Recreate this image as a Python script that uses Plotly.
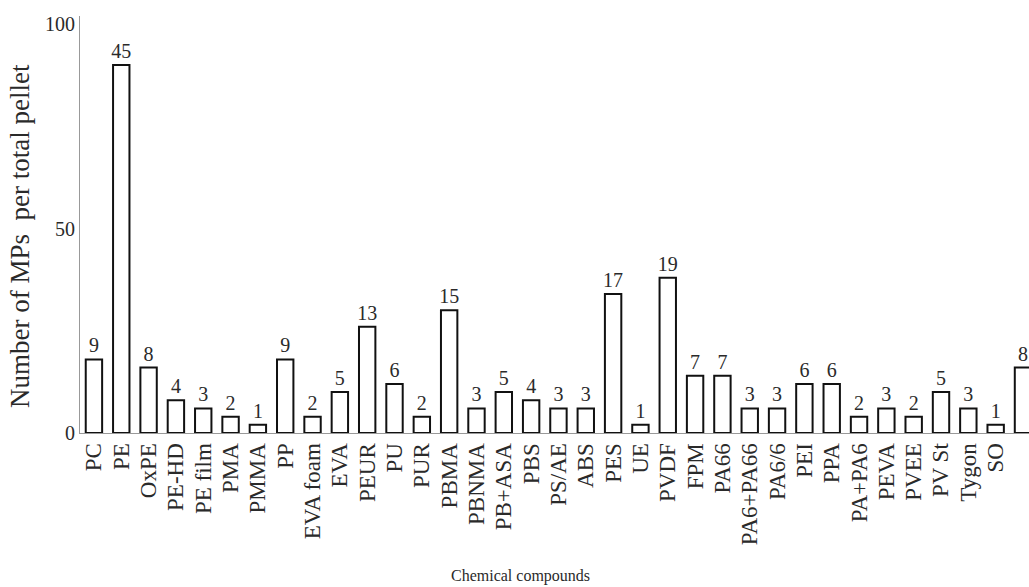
import plotly.graph_objects as go

categories = ["PC", "PE", "OxPE", "PE-HD", "PE film", "PMA", "PMMA", "PP", "EVA foam", "EVA",
              "PEUR", "PU", "PUR", "PBMA", "PBNMA", "PB+ASA", "PBS", "PS/AE", "ABS", "PES",
              "UE", "PVDF", "FPM", "PA66", "PA6+PA66", "PA6/6", "PEI", "PPA", "PA+PA6", "PEVA",
              "PVEE", "PV St", "Tygon", "SO", "MF"]
bar_heights = [18, 90, 16, 8, 6, 4, 2, 18, 4, 10,
               26, 12, 4, 30, 6, 10, 8, 6, 6, 34,
               2, 38, 14, 14, 6, 6, 12, 12, 4, 6,
               4, 10, 6, 2, 16]
count_labels = ["9", "45", "8", "4", "3", "2", "1", "9", "2", "5",
                "13", "6", "2", "15", "3", "5", "4", "3", "3", "17",
                "1", "19", "7", "7", "3", "3", "6", "6", "2", "3",
                "2", "5", "3", "1", "8"]
y_ticks = [0, 50, 100]

FONT = "Liberation Serif, Times New Roman, serif"
TXT = "#2a2a2a"

fig = go.Figure(go.Bar(
    x=list(range(len(categories))), y=bar_heights,
    text=count_labels, textposition="outside",
    textfont=dict(family=FONT, size=20, color=TXT),
    marker=dict(color="white", line=dict(color="#111", width=2)),
    width=0.6, cliponaxis=False,
))

fig.update_layout(
    width=1029, height=587,
    margin=dict(l=80, r=0, t=16, b=154),
    plot_bgcolor="white", paper_bgcolor="white",
    showlegend=False, uniformtext=dict(minsize=20, mode="show"),
    font=dict(family=FONT, size=15, color=TXT),
    xaxis=dict(
        range=[-0.51, 34.22], automargin=False,
        tickmode="array", tickvals=list(range(len(categories))), ticktext=categories,
        tickangle=-90, showgrid=False, zeroline=False,
        showline=True, linecolor="#999", linewidth=1, ticks="",
        tickfont=dict(family=FONT, size=23, color=TXT),
    ),
    yaxis=dict(
        range=[0, 102], tickmode="array", tickvals=y_ticks, automargin=False,
        showgrid=False, zeroline=False,
        showline=True, linecolor="#999", linewidth=1, ticks="",
        tickfont=dict(family=FONT, size=20, color=TXT),
    ),
    annotations=[
        dict(text="Chemical compounds", xref="paper", yref="paper",
             x=(520 - 80) / 949, y=-(576 - 433) / 417, xanchor="center", yanchor="middle",
             showarrow=False, font=dict(family=FONT, size=16, color=TXT)),
        dict(text="Number of MPs  per total pellet", xref="paper", yref="paper",
             x=-(80 - 20) / 949, y=(433 - 236) / 417, xanchor="center", yanchor="middle",
             textangle=-90, showarrow=False, font=dict(family=FONT, size=27, color=TXT)),
    ],
)

fig.write_html("out.html")
